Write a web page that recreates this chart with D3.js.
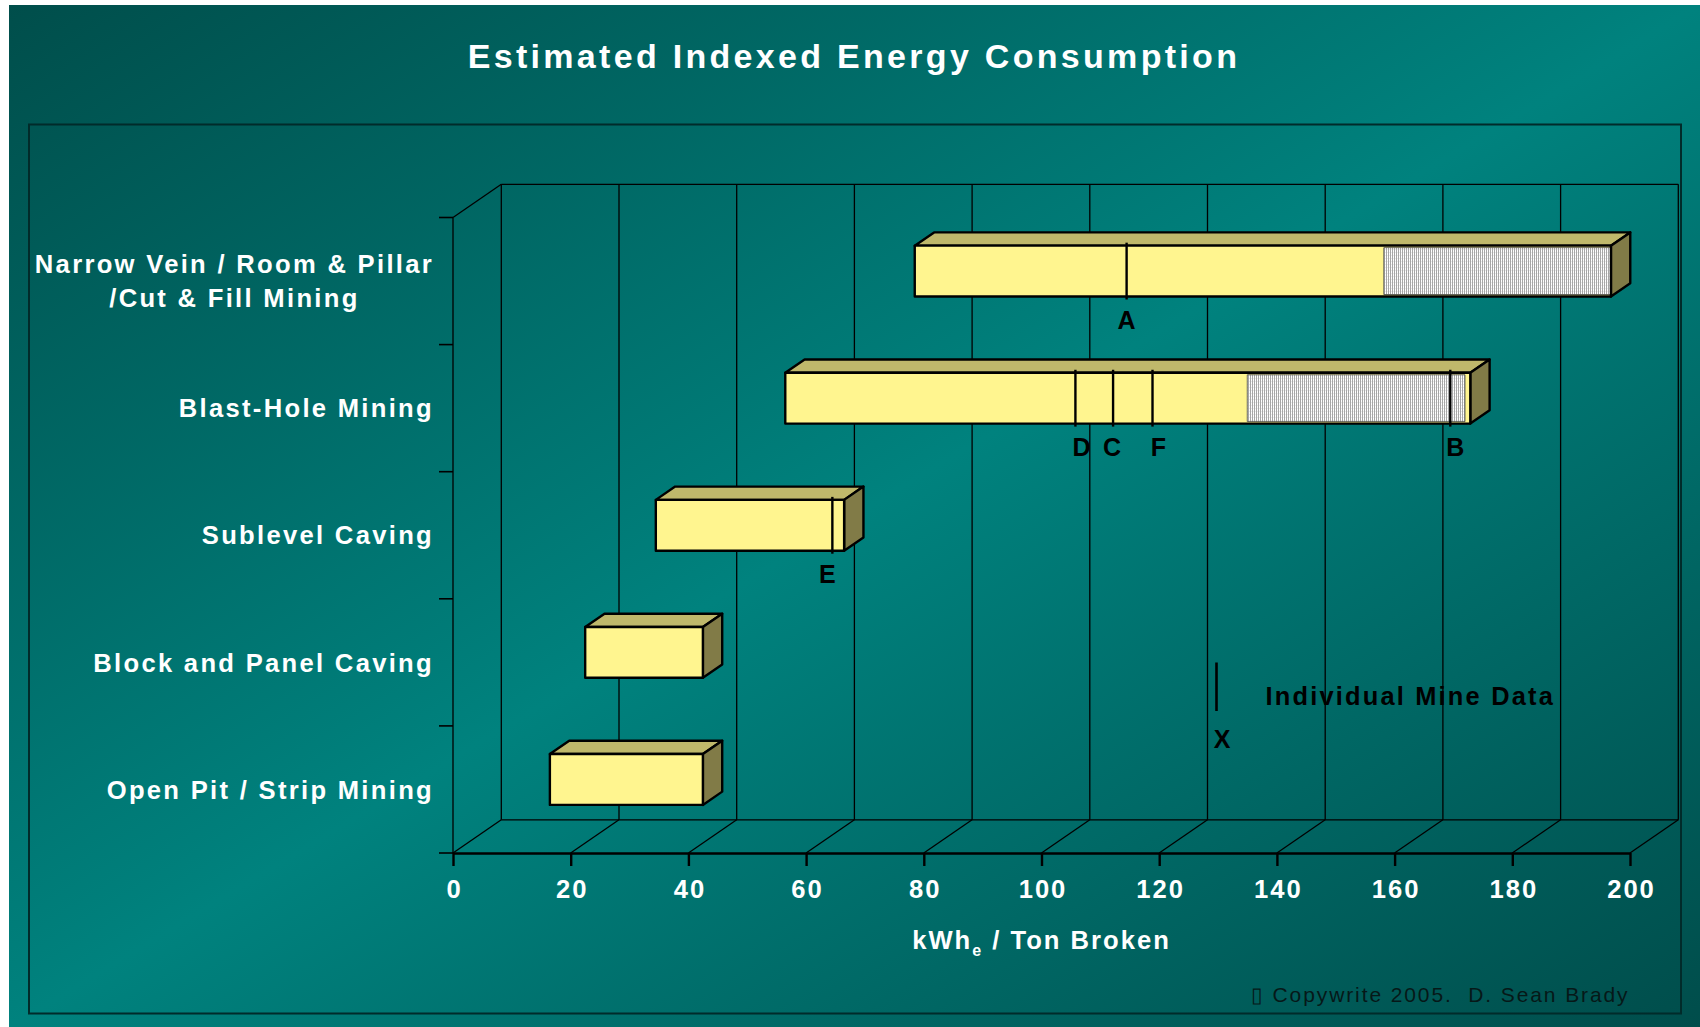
<!DOCTYPE html>
<html>
<head>
<meta charset="utf-8">
<script src="https://cdnjs.cloudflare.com/ajax/libs/d3/7.8.5/d3.min.js"></script>
<style>
    body { margin: 0; background: #ffffff; }
    svg text { font-family: "Liberation Sans", Arial, sans-serif; }
</style>
</head>
<body>
<svg id="chart" width="1700" height="1027"></svg>
<script>
// categories, top to bottom
var categories = ['narrow', 'blast', 'sublevel', 'block', 'openpit'];
var categoryLabels = [
    ['Narrow Vein / Room & Pillar', '/Cut & Fill Mining'],
    ['Blast-Hole Mining'],
    ['Sublevel Caving'],
    ['Block and Panel Caving'],
    ['Open Pit / Strip Mining']
];

// estimated range of each method (kWh / ton)
var barLow = [76, 54, 32, 20, 14];
var barHigh = [194.3, 170.4, 64, 40, 40];
// hatched (upper) part of the range
var hatchLow = [155.7, 132.5, null, null, null];
var hatchHigh = [194.3, 169.5, null, null, null];

// individual mine data
var mineNames = ['A', 'D', 'C', 'F', 'B', 'E'];
var mineCategory = ['narrow', 'blast', 'blast', 'blast', 'blast', 'sublevel'];
var mineValues = [112, 103.3, 109.7, 116.4, 167, 62];

var xTicks = [0, 20, 40, 60, 80, 100, 120, 140, 160, 180, 200];

var svg = d3.select('#chart');

// --- background
var defs = svg.append('defs');
var grad = defs.append('linearGradient').attr('id', 'bg')
    .attr('x1', 0).attr('y1', 0).attr('x2', 1).attr('y2', 1);
grad.append('stop').attr('offset', '0%').attr('stop-color', '#004e4b');
grad.append('stop').attr('offset', '50%').attr('stop-color', '#00827e');
grad.append('stop').attr('offset', '100%').attr('stop-color', '#004d4b');

var hatch = defs.append('pattern').attr('id', 'hatch')
    .attr('patternUnits', 'userSpaceOnUse').attr('width', 2).attr('height', 3);
hatch.append('rect').attr('width', 2).attr('height', 3).attr('fill', '#ffffff');
hatch.append('rect').attr('width', 2).attr('height', 1).attr('fill', '#ececec');
hatch.append('rect').attr('width', 1).attr('height', 3).attr('fill', '#a6a6a6');

svg.append('rect').attr('x', 9).attr('y', 5).attr('width', 1691).attr('height', 1022)
    .attr('fill', 'url(#bg)');

svg.append('rect').attr('x', 29).attr('y', 124.5).attr('width', 1652).attr('height', 889)
    .attr('fill', 'none').attr('stroke', '#012b2a').attr('stroke-width', 2);

svg.append('text')
    .attr('x', 854).attr('y', 67.5)
    .attr('text-anchor', 'middle')
    .attr('fill', '#ffffff')
    .style('font-size', '34px').style('font-weight', 'bold').style('letter-spacing', '3.3px')
    .text('Estimated Indexed Energy Consumption');

// --- scales
var x = d3.scaleLinear().domain([0, 200]).range([453, 1630]);
var y = d3.scaleBand().domain(categories).range([217.5, 853])
    .paddingInner(0.6).paddingOuter(0.3);

var depth = {dx: 48.3, dy: -33.2};   // floor depth
var barFront = 0.3, barDepth = 0.4;  // bar placed in the middle of the depth

var yTop = y.range()[0], yBottom = y.range()[1];

// --- walls and floor
var walls = svg.append('g').attr('stroke', '#000').attr('stroke-width', 1.3).attr('fill', 'none');

xTicks.forEach(function (v) {
    walls.append('line')
        .attr('x1', x(v) + depth.dx).attr('y1', yTop + depth.dy)
        .attr('x2', x(v) + depth.dx).attr('y2', yBottom + depth.dy);
    walls.append('line')
        .attr('x1', x(v)).attr('y1', yBottom)
        .attr('x2', x(v) + depth.dx).attr('y2', yBottom + depth.dy);
});
walls.append('line')
    .attr('x1', x(0) + depth.dx).attr('y1', yTop + depth.dy)
    .attr('x2', x(200) + depth.dx).attr('y2', yTop + depth.dy);
walls.append('line')
    .attr('x1', x(0) + depth.dx).attr('y1', yBottom + depth.dy)
    .attr('x2', x(200) + depth.dx).attr('y2', yBottom + depth.dy);
walls.append('line')
    .attr('x1', x(0)).attr('y1', yTop)
    .attr('x2', x(0) + depth.dx).attr('y2', yTop + depth.dy);
walls.append('line')
    .attr('x1', x(0)).attr('y1', yTop)
    .attr('x2', x(0)).attr('y2', yBottom);

// category ticks on the left axis (band boundaries)
d3.range(categories.length + 1).forEach(function (k) {
    var yy = yTop + k * y.step();
    walls.append('line')
        .attr('x1', x(0) - 14).attr('y1', yy)
        .attr('x2', x(0)).attr('y2', yy)
        .attr('stroke-width', 1.6);
});

// --- category labels
var labels = svg.append('g').attr('fill', '#ffffff')
    .style('font-size', '25.6px').style('font-weight', 'bold').style('letter-spacing', '2.3px');

categories.forEach(function (c, i) {
    var lines = categoryLabels[i];
    var center = y(c) + y.bandwidth() / 2;
    var right = 434;
    if (lines.length === 1) {
        labels.append('text')
            .attr('x', right).attr('y', center + 9.2)
            .attr('text-anchor', 'end')
            .text(lines[0]);
    } else {
        var t = labels.append('text').attr('text-anchor', 'middle');
        var tmp = labels.append('text').text(lines[0]);
        var w = tmp.node().getComputedTextLength();
        tmp.remove();
        lines.forEach(function (l, j) {
            t.append('tspan')
                .attr('x', right - w / 2)
                .attr('y', center + 9.2 + (j - (lines.length - 1) / 2) * 34)
                .text(l);
        });
    }
});

// --- 3D bars
var bars = svg.append('g');

categories.forEach(function (c, i) {
    var fx = barFront * depth.dx, fy = barFront * depth.dy;
    var bx = barDepth * depth.dx, by = barDepth * depth.dy;
    var x0 = x(barLow[i]) + fx, x1 = x(barHigh[i]) + fx;
    var yt = y(c) + fy, yb = yt + y.bandwidth();

    var g = bars.append('g').attr('stroke', '#000').attr('stroke-width', 2.4)
        .attr('stroke-linejoin', 'round');

    g.append('polygon')
        .attr('points', [[x0, yt], [x0 + bx, yt + by], [x1 + bx, yt + by], [x1, yt]].join(' '))
        .attr('fill', '#bfb86b');
    g.append('polygon')
        .attr('points', [[x1, yt], [x1 + bx, yt + by], [x1 + bx, yb + by], [x1, yb]].join(' '))
        .attr('fill', '#817b47');
    g.append('rect')
        .attr('x', x0).attr('y', yt).attr('width', x1 - x0).attr('height', yb - yt)
        .attr('fill', '#fff58f').attr('stroke', 'none');
    if (hatchLow[i] !== null) {
        var h0 = x(hatchLow[i]) + fx, h1 = x(hatchHigh[i]) + fx;
        g.append('rect')
            .attr('x', h0).attr('y', yt + 2).attr('width', h1 - h0).attr('height', yb - yt - 4)
            .attr('fill', 'url(#hatch)').attr('stroke', '#444').attr('stroke-width', 0.8);
    }
    g.append('rect')
        .attr('x', x0).attr('y', yt).attr('width', x1 - x0).attr('height', yb - yt)
        .attr('fill', 'none');
});

// --- individual mine markers
// small sideways nudges so the letters don't crowd each other
var labelShift = {A: 0, D: 6, C: -1, F: 6, B: 5, E: -5};
var marks = svg.append('g');
mineNames.forEach(function (name, k) {
    var c = mineCategory[k];
    var mx = x(mineValues[k]) + barFront * depth.dx;
    var yt = y(c) + barFront * depth.dy, yb = yt + y.bandwidth();
    marks.append('line')
        .attr('x1', mx).attr('y1', yt - 3)
        .attr('x2', mx).attr('y2', yb + 3)
        .attr('stroke', '#000').attr('stroke-width', 2.4);
    marks.append('text')
        .attr('x', mx + labelShift[name]).attr('y', yb + 32)
        .attr('text-anchor', 'middle')
        .attr('fill', '#000')
        .style('font-size', '25px').style('font-weight', 'bold')
        .text(name);
});

// --- x axis
var axis = svg.append('g')
    .attr('transform', 'translate(0,' + yBottom + ')')
    .call(d3.axisBottom(x).tickValues(xTicks).tickSize(13).tickPadding(14).tickSizeOuter(0));
axis.attr('font-size', null).attr('font-family', null);
axis.select('.domain').attr('stroke', '#000').attr('stroke-width', 2.6);
axis.selectAll('.tick line').attr('stroke', '#000').attr('stroke-width', 2.4);
axis.selectAll('.tick text')
    .attr('fill', '#ffffff')
    .attr('dx', '1px')
    .style('font-size', '25.6px').style('font-weight', 'bold').style('letter-spacing', '2px');

var xTitle = svg.append('text')
    .attr('x', (x(0) + x(200)) / 2).attr('y', 948.5)
    .attr('text-anchor', 'middle')
    .attr('fill', '#ffffff')
    .style('font-size', '25.6px').style('font-weight', 'bold').style('letter-spacing', '2px');
xTitle.append('tspan').text('kWh');
xTitle.append('tspan').attr('dy', 7).style('font-size', '16px').text('e');
xTitle.append('tspan').attr('dy', -7).text(' / Ton Broken');

// --- legend
svg.append('line')
    .attr('x1', 1216.5).attr('y1', 662.5).attr('x2', 1216.5).attr('y2', 711)
    .attr('stroke', '#000').attr('stroke-width', 2.6);
svg.append('text')
    .attr('x', 1222).attr('y', 748.3).attr('text-anchor', 'middle')
    .attr('fill', '#000')
    .style('font-size', '25px').style('font-weight', 'bold')
    .text('X');
svg.append('text')
    .attr('x', 1265.5).attr('y', 705)
    .attr('fill', '#000')
    .style('font-size', '25.4px').style('font-weight', 'bold').style('letter-spacing', '2.2px')
    .text('Individual Mine Data');

// --- copyright
svg.append('text')
    .attr('x', 1629.5).attr('y', 1001.5).attr('text-anchor', 'end')
    .attr('fill', '#061818')
    .style('font-size', '21px').style('letter-spacing', '1.9px')
    .text('\u25AF Copywrite 2005.\u00A0 D. Sean Brady');
</script>
</body>
</html>
